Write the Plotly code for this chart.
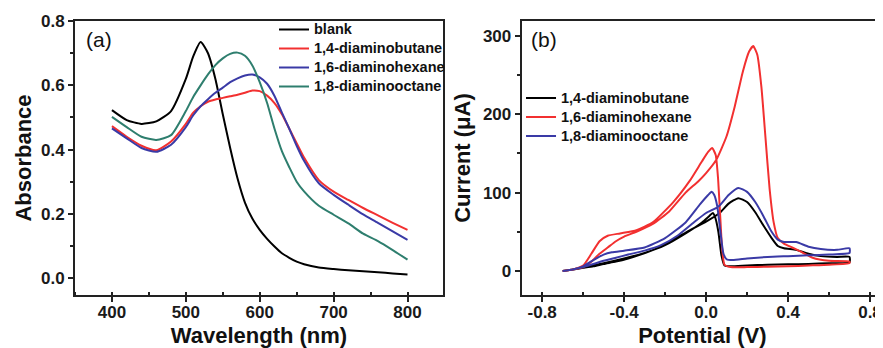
import plotly.graph_objects as go

# ---------------- Panel (a): UV-vis absorbance ----------------
wavelength = [400, 420, 440, 460, 480, 500, 510, 520, 530, 540, 550, 560, 570, 580, 590,
              600, 610, 620, 630, 640, 650, 660, 680, 700, 720, 740, 760, 780, 800]
abs_blank = [0.523, 0.492, 0.480, 0.488, 0.520, 0.620, 0.690, 0.735, 0.700, 0.620, 0.510, 0.405,
             0.310, 0.235, 0.185, 0.150, 0.122, 0.098, 0.077, 0.063, 0.051, 0.043, 0.033, 0.028,
             0.024, 0.021, 0.018, 0.014, 0.011]
abs_butane = [0.473, 0.440, 0.412, 0.398, 0.425, 0.480, 0.515, 0.535, 0.549, 0.556, 0.561, 0.566,
              0.571, 0.577, 0.584, 0.582, 0.568, 0.545, 0.510, 0.465, 0.420, 0.375, 0.305, 0.269,
              0.243, 0.218, 0.195, 0.172, 0.150]
abs_hexane = [0.466, 0.435, 0.405, 0.393, 0.415, 0.470, 0.507, 0.535, 0.557, 0.577, 0.593, 0.610,
              0.622, 0.631, 0.634, 0.625, 0.605, 0.567, 0.515, 0.465, 0.412, 0.365, 0.295, 0.259,
              0.228, 0.198, 0.172, 0.145, 0.119]
abs_octane = [0.502, 0.470, 0.440, 0.430, 0.445, 0.520, 0.564, 0.600, 0.634, 0.663, 0.684, 0.698,
              0.702, 0.692, 0.662, 0.610, 0.545, 0.465, 0.395, 0.345, 0.300, 0.270, 0.225, 0.197,
              0.170, 0.138, 0.115, 0.087, 0.057]
names_a = ["blank", "1,4-diaminobutane", "1,6-diaminohexane", "1,8-diaminooctane"]

ticks_a_x = [400, 500, 600, 700, 800]
ticks_a_x_text = ["400", "500", "600", "700", "800"]
ticks_a_y = [0.0, 0.2, 0.4, 0.6, 0.8]
ticks_a_y_text = ["0.0", "0.2", "0.4", "0.6", "0.8"]

# ---------------- Panel (b): cyclic voltammograms ----------------
cv_v_butane = [-0.70, -0.65, -0.60, -0.55, -0.50, -0.44, -0.38, -0.32, -0.24, -0.16, -0.08, 0.00,
               0.066, 0.11, 0.157, 0.20, 0.24, 0.28, 0.32, 0.35, 0.38, 0.44, 0.50, 0.56, 0.64, 0.70,
               0.70, 0.60, 0.50, 0.40, 0.30, 0.20, 0.12, 0.09, 0.075, 0.06, 0.045, 0.033, 0.015,
               -0.02, -0.10, -0.20, -0.30, -0.40, -0.50, -0.60, -0.65, -0.70]
cv_i_butane = [0, 2, 4, 6, 9, 12, 16, 21, 29, 40, 52, 63,
               74, 86, 93, 88, 75, 58, 42, 32, 29, 27, 22, 19, 18, 18,
               11, 10, 9, 8.5, 8, 7, 6, 7, 20, 50, 68, 74, 70,
               62, 48, 33, 23, 16, 10, 5, 2, 0]

cv_v_hexane = [-0.70, -0.65, -0.60, -0.56, -0.52, -0.48, -0.44, -0.40, -0.34, -0.26, -0.18, -0.10,
               -0.04, 0.00, 0.05, 0.10, 0.14, 0.18, 0.21, 0.23, 0.25, 0.27, 0.29, 0.31, 0.33, 0.35,
               0.38, 0.42, 0.46, 0.52, 0.60, 0.70,
               0.70, 0.60, 0.50, 0.40, 0.30, 0.20, 0.12, 0.09, 0.078, 0.068, 0.058, 0.047, 0.03,
               0.01, -0.02, -0.08, -0.16, -0.26, -0.34, -0.42, -0.48, -0.52, -0.56, -0.60, -0.65, -0.70]
cv_i_hexane = [0, 2, 5, 12, 22, 30, 38, 44, 50, 60, 76, 100,
               114, 125, 142, 172, 210, 255, 280, 287, 276, 235, 170, 105, 62, 42,
               35, 30, 25, 17, 13, 12,
               10, 8, 7, 6, 5.5, 5, 5, 8, 30, 75, 120, 148, 157,
               152, 140, 115, 88, 62, 52, 48, 45, 38, 22, 7, 2, 0]

cv_v_octane = [-0.70, -0.65, -0.60, -0.55, -0.50, -0.44, -0.38, -0.30, -0.22, -0.14, -0.06, 0.00,
               0.06, 0.11, 0.157, 0.20, 0.24, 0.28, 0.32, 0.35, 0.38, 0.44, 0.50, 0.56, 0.64, 0.70,
               0.70, 0.60, 0.50, 0.40, 0.30, 0.20, 0.13, 0.10, 0.085, 0.07, 0.055, 0.04, 0.027,
               0.01, -0.03, -0.10, -0.20, -0.30, -0.40, -0.46, -0.50, -0.55, -0.60, -0.65, -0.70]
cv_i_octane = [0, 2, 5, 9, 13, 17, 21, 26, 33, 45, 62, 74,
               82, 97, 106, 101, 88, 70, 50, 40, 37, 37, 31, 28, 27, 29,
               23, 21, 20, 19, 18, 16, 14, 15, 22, 50, 82, 97, 101,
               97, 85, 62, 42, 30, 26, 24, 21, 14, 6, 2, 0]
names_b = ["1,4-diaminobutane", "1,6-diaminohexane", "1,8-diaminooctane"]

ticks_b_x = [-0.8, -0.4, 0.0, 0.4, 0.8]
ticks_b_x_text = ["-0.8", "-0.4", "0.0", "0.4", "0.8"]
ticks_b_y = [0, 100, 200, 300]
ticks_b_y_text = ["0", "100", "200", "300"]

colors_a = ["#000000", "#f23030", "#3a3aa6", "#2e7e6e"]
colors_b = ["#000000", "#f23030", "#3a3aa6"]

FONT = "Liberation Sans"


def bold(labels):
    return ["<b>%s</b>" % t for t in labels]


def legend_label(name):
    # larger glyphs than the legend's base size, so entries stay tightly spaced
    return '<span style="font-size:14.5px">%s</span>' % name


fig = go.Figure()

for nm, ys, col in zip(names_a, [abs_blank, abs_butane, abs_hexane, abs_octane], colors_a):
    fig.add_trace(go.Scatter(x=wavelength, y=ys, name=legend_label(nm), mode="lines",
                             line=dict(color=col, width=2, shape="spline", smoothing=0.6),
                             xaxis="x", yaxis="y", legend="legend"))

for nm, xs, ys, col in zip(names_b, [cv_v_butane, cv_v_hexane, cv_v_octane],
                           [cv_i_butane, cv_i_hexane, cv_i_octane], colors_b):
    fig.add_trace(go.Scatter(x=xs, y=ys, name=legend_label(nm), mode="lines",
                             line=dict(color=col, width=2, shape="spline", smoothing=0.5),
                             xaxis="x2", yaxis="y2", legend="legend2"))

axc = dict(showline=True, linewidth=2, linecolor="#222", showgrid=False, zeroline=False,
           ticks="outside", ticklen=5, tickwidth=1.5, tickcolor="#222",
           tickfont=dict(family=FONT, size=17, color="#1a1a1a"),
           automargin=False)
titlefont = dict(family=FONT, size=22, color="#111", weight="bold")

fig.update_layout(
    width=875, height=340,
    margin=dict(l=67, r=0, t=13, b=53),
    paper_bgcolor="white", plot_bgcolor="white",
    font=dict(family=FONT),
    showlegend=True,
    xaxis=dict(axc, domain=[0, 0.4554], range=[350, 848], mirror=True,
               tickvals=ticks_a_x, ticktext=bold(ticks_a_x_text), ticklabelstandoff=-4,
               minor=dict(ticks="inside", ticklen=3, dtick=50, tick0=0, tickcolor="#222", tickwidth=1.5),
               title=dict(text="Wavelength (nm)", font=titlefont, standoff=8)),
    yaxis=dict(axc, domain=[0, 1], range=[-0.053, 0.8005], mirror=True,
               tickvals=ticks_a_y, ticktext=bold(ticks_a_y_text),
               minor=dict(ticks="outside", ticklen=3, dtick=0.1, tick0=0, tickcolor="#222", tickwidth=1.5),
               title=dict(text="Absorbance", font=titlefont, standoff=3)),
    xaxis2=dict(axc, domain=[0.5528, 1], range=[-0.9, 0.8635], mirror=True, anchor="y2",
                tickvals=ticks_b_x, ticktext=bold(ticks_b_x_text), ticklabelstandoff=-4,
                minor=dict(ticks="inside", ticklen=3, dtick=0.2, tick0=0, tickcolor="#222", tickwidth=1.5),
                title=dict(text="Potential (V)", font=titlefont, standoff=8)),
    yaxis2=dict(axc, domain=[0, 1], range=[-30.6, 319], anchor="x2", mirror=False,
                tickvals=ticks_b_y, ticktext=bold(ticks_b_y_text),
                minor=dict(ticks="outside", ticklen=3, dtick=50, tick0=0, tickcolor="#222", tickwidth=1.5),
                title=dict(text="Current (μA)", font=titlefont, standoff=6)),
    legend=dict(x=0.2463, y=1.0219, xanchor="left", yanchor="top", bgcolor="rgba(0,0,0,0)",
                font=dict(family=FONT, size=11.5, color="#111", weight="bold"),
                borderwidth=0, itemclick=False),
    legend2=dict(x=0.552, y=0.7715, xanchor="left", yanchor="top", bgcolor="rgba(0,0,0,0)",
                 font=dict(family=FONT, size=12.2, color="#111", weight="bold"),
                 borderwidth=0, itemclick=False),
    annotations=[
        dict(text="(a)", xref="x domain", yref="y domain", x=0.0652, y=0.9307,
             xanchor="center", yanchor="middle", showarrow=False,
             font=dict(family=FONT, size=21, color="#111")),
        dict(text="(b)", xref="x2 domain", yref="y2 domain", x=0.0617, y=0.9307,
             xanchor="center", yanchor="middle", showarrow=False,
             font=dict(family=FONT, size=21, color="#111")),
    ],
)

fig.write_html("out.html", config={"displayModeBar": False})
